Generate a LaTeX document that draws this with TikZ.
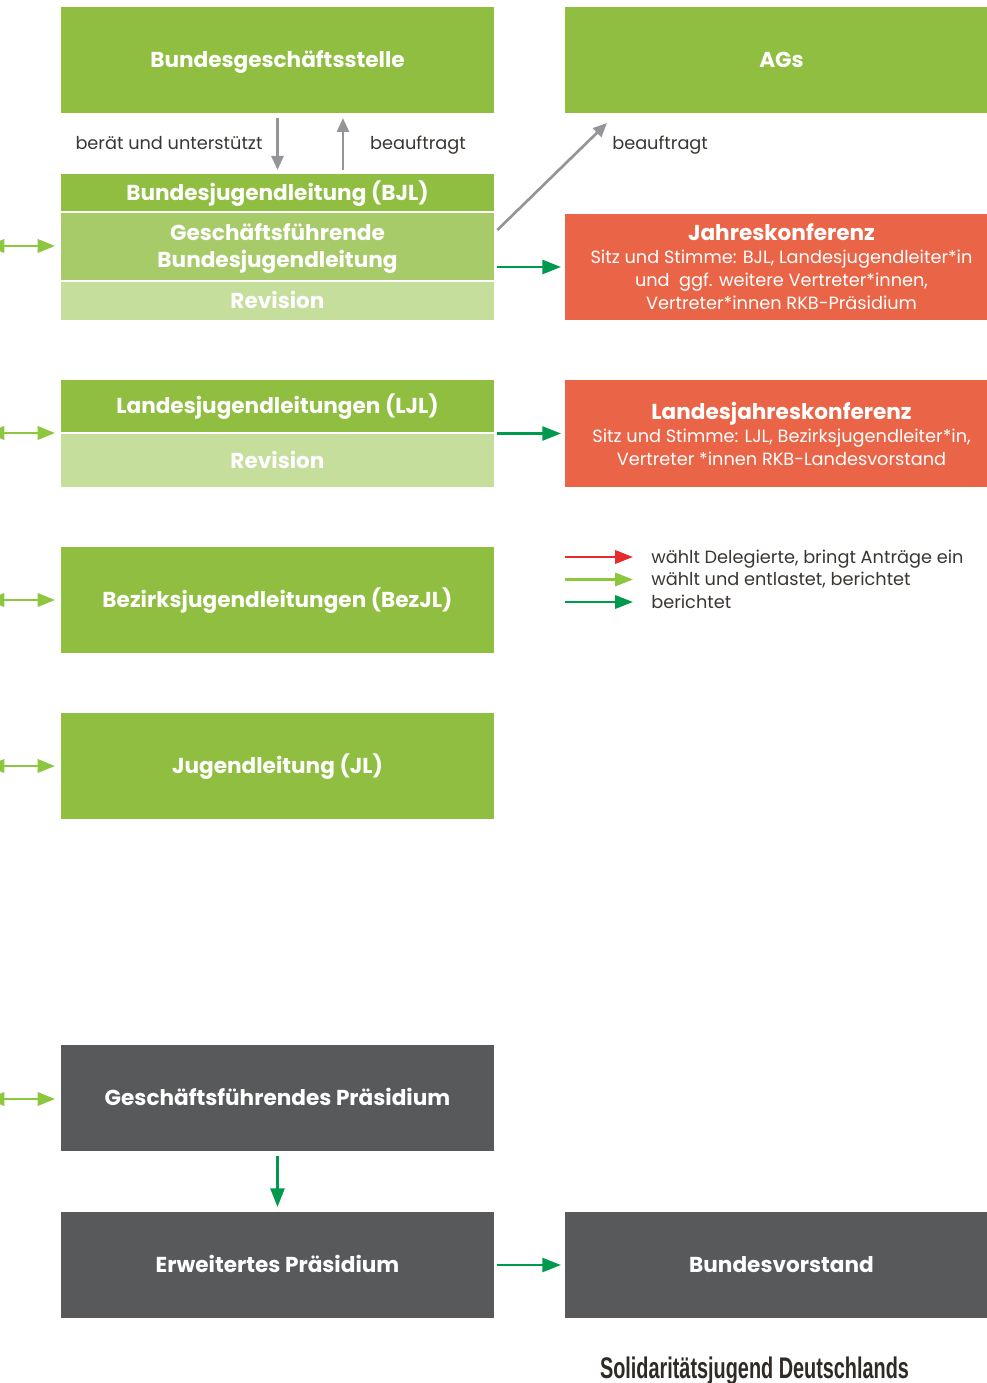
\documentclass[tikz,border=0pt]{standalone}
\usepackage{fontspec}
\setmainfont{Poppins}
\newfontfamily\titlefont{Liberation Sans}
\usetikzlibrary{arrows.meta,calc}
\definecolor{gMain}{HTML}{8FBE40}
\definecolor{gMid}{HTML}{A8CB6A}
\definecolor{gLight}{HTML}{C5DE9C}
\definecolor{oRed}{HTML}{EA6548}
\definecolor{dGrey}{HTML}{58595B}
\definecolor{aGrey}{HTML}{939598}
\definecolor{aDark}{HTML}{009A4E}
\definecolor{aLight}{HTML}{8DC63F}
\definecolor{aRed}{HTML}{E52B2B}
\definecolor{txt}{HTML}{3A3632}
\definecolor{ttl}{HTML}{2E2A25}
\begin{document}
\begin{tikzpicture}[x=0.75pt,y=-0.75pt,
  mbox/.style={inner sep=0pt,outer sep=0pt,draw=none,text=white,align=center,
    minimum width=324.75pt,font=\bfseries\fontsize{16.2}{20.25}\selectfont},
  box/.style={mbox,text height=11.3pt,text depth=0pt},
  info/.style={mbox,font=\fontsize{13.3}{17.25}\selectfont},
  lbl/.style={inner sep=0pt,text=txt,font=\fontsize{13.3}{15}\selectfont,
    text height=9.3pt,text depth=0pt},
  grayarrow/.style={draw=aGrey,line width=2pt,-{Triangle[length=10.5pt,width=9pt]}},
  darrow/.style={draw=aDark,line width=1.9pt,-{Triangle[length=14pt,width=10.5pt]}},
  larrow/.style={draw=aLight,line width=1.9pt,{Triangle[length=13pt,width=10pt]}-{Triangle[length=13pt,width=10pt]}},
  legarrow/.style={line width=1.9pt,-{Triangle[length=13.5pt,width=10pt]}}
]
\useasboundingbox (0,0) rectangle (986,1383);

% boxes
\node[box,fill=gMain,minimum height=79.5pt] (bgs) at (277.5,60) {Bundesgeschäftsstelle};
\node[box,fill=gMain,minimum height=79.5pt] (ags) at (781.5,60) {AGs};
\node[box,fill=gMain,minimum height=27.75pt] (bjl) at (277.5,192.5) {Bundesjugendleitung (BJL)};
\node[mbox,fill=gMid,minimum height=50.25pt] (gbjl) at (277.5,247) {\rule{0pt}{15pt}Geschäftsführende\\Bundesjugendleitung};
\node[box,fill=gLight,minimum height=28.5pt] (rev1) at (277.5,301) {Revision};
\node[info,fill=oRed,minimum height=79.5pt] (jk) at (781.5,267)
  {{\bfseries\fontsize{16.2}{17.25}\selectfont Jahreskonferenz}\\
   Sitz und Stimme: BJL, Landesjugendleiter*in\\
   und\ \ ggf. weitere Vertreter*innen,\\
   Vertreter*innen RKB-Präsidium};

\node[box,fill=gMain,minimum height=39pt] (ljl) at (277.5,406) {Landesjugendleitungen (LJL)};
\node[box,fill=gLight,minimum height=39.75pt] (rev2) at (277.5,460.5) {Revision};
\node[info,fill=oRed,minimum height=80.25pt] (ljk) at (781.5,433.5)
  {{\bfseries\fontsize{16.2}{17.25}\selectfont Landesjahreskonferenz}\\
   Sitz und Stimme: LJL, Bezirksjugendleiter*in,\\
   Vertreter *innen RKB-Landesvorstand};

\node[box,fill=gMain,minimum height=79.5pt] (bez) at (277.5,600) {Bezirksjugendleitungen (BezJL)};
\node[box,fill=gMain,minimum height=79.5pt] (jl) at (277.5,766) {Jugendleitung (JL)};
\node[box,fill=dGrey,minimum height=79.5pt] (gfp) at (277.5,1098) {Geschäftsführendes Präsidium};
\node[box,fill=dGrey,minimum height=79.5pt] (ep) at (277.5,1265) {Erweitertes Präsidium};
\node[box,fill=dGrey,minimum height=79.5pt] (bv) at (781.5,1265) {Bundesvorstand};

% labels
\node[lbl] (l1) at (169,143) {berät und unterstützt};
\node[lbl] (l2) at (418,143) {beauftragt};
\node[lbl,anchor=west] (l3) at (612,143) {beauftragt};

% grey arrows
\draw[grayarrow,shorten <=3.75pt,shorten >=3pt] (bgs.south) -- (bjl.north);
\draw[grayarrow,shorten <=3pt,shorten >=3.75pt] ([xshift=49.1pt]bjl.north) -- ([xshift=49.1pt]bgs.south);
\draw[grayarrow] ([xshift=2.5pt,yshift=-12.4pt]gbjl.north east) -- ([xshift=31.5pt,yshift=-7.5pt]ags.south west);

% dark green arrows
\draw[darrow,shorten <=2.25pt,shorten >=3pt] (gbjl.east |- jk.west) -- (jk.west);
\draw[darrow,shorten <=2.25pt,shorten >=3pt] (ljl.east |- ljk.west) -- (ljk.west);
\draw[darrow,shorten <=2.25pt,shorten >=3pt] (ep.east) -- (bv.west);
\draw[darrow,shorten <=3.75pt,shorten >=3.75pt] (gfp.south) -- (ep.north);

% left double arrows
\coordinate (c1) at (-13,246);
\coordinate (c2) at (-13,433);
\coordinate (c3) at (-13,600);
\coordinate (c4) at (-13,766);
\coordinate (c5) at (-13,1099);
\draw[larrow,shorten >=4.5pt] (c1) -- (c1 -| gbjl.west);
\draw[larrow,shorten >=4.5pt] (c2) -- (c2 -| ljl.west);
\draw[larrow,shorten >=4.5pt] (c3) -- (c3 -| bez.west);
\draw[larrow,shorten >=4.5pt] (c4) -- (c4 -| jl.west);
\draw[larrow,shorten >=4.5pt] (c5) -- (c5 -| gfp.west);

% legend
\node[lbl,anchor=west] (t1) at (651,557) {wählt Delegierte, bringt Anträge ein};
\node[lbl,anchor=west] (t2) at (651,579.5) {wählt und entlastet, berichtet};
\node[lbl,anchor=west] (t3) at (651,602) {berichtet};
\coordinate (g1) at (565,557);
\coordinate (g2) at (565,579.5);
\coordinate (g3) at (565,602);
\draw[legarrow,draw=aRed,shorten >=13.5pt] (g1) -- (g1 -| t1.west);
\draw[legarrow,draw=aLight,shorten >=13.5pt] (g2) -- (g2 -| t2.west);
\draw[legarrow,draw=aDark,shorten >=13.5pt] (g3) -- (g3 -| t3.west);

% title
\node[inner sep=0pt,anchor=base,text=ttl] (title) at (754.5,1378)
  {\resizebox{231.75pt}{16.2pt}{\titlefont\bfseries Solidaritätsjugend Deutschlands}};
\end{tikzpicture}
\end{document}
